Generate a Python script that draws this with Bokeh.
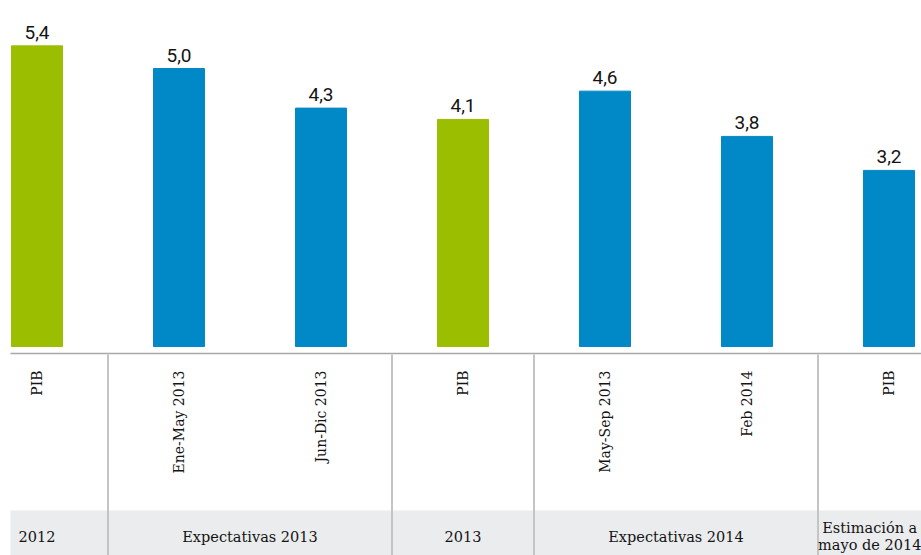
import math
from bokeh.plotting import figure
from bokeh.models import ColumnDataSource
from bokeh.core.properties import value
from bokeh.embed import file_html
from bokeh.resources import INLINE

# ---- data ----
bar_labels = ["PIB", "Ene-May 2013", "Jun-Dic 2013", "PIB", "May-Sep 2013", "Feb 2014", "PIB"]
bar_values = [5.4, 5.0, 4.3, 4.1, 4.6, 3.8, 3.2]
bar_kind = ["pib", "exp", "exp", "pib", "exp", "exp", "est"]
group_labels = ["2012", "Expectativas 2013", "2013", "Expectativas 2014", "Estimación a\nmayo de 2014"]
group_start = [0, 1, 3, 4, 6]
group_end = [0, 2, 3, 5, 6]

GREEN = "#9BBF00"
BLUE = "#0089C6"
SERIF = "DejaVu Serif"
INK = "#141414"

W, H = 921, 555
STEP = 142.0
X0 = 36.5
x_left = -X0 / STEP
x_right = (W - X0) / STEP
K = 56.6
B = 351.0
y_top = B / K
y_bot = -(H - B) / K


def py(ry):
    """reference-picture y -> data y"""
    return (B - ry) / K


def px(rx):
    return (rx - X0) / STEP


p = figure(width=W, height=H, output_backend="svg", toolbar_location=None,
           x_range=(x_left, x_right), y_range=(y_bot, y_top),
           min_border=0, min_border_left=0, min_border_right=0,
           min_border_top=0, min_border_bottom=0)
p.axis.visible = False
p.grid.visible = False
p.outline_line_color = None
p.background_fill_color = "white"

idx = list(range(len(bar_values)))
colors = [GREEN if k == "pib" else BLUE for k in bar_kind]
src = ColumnDataSource(dict(x=idx, top=bar_values, color=colors,
                            lab=[f"{v:.1f}".replace(".", ",") for v in bar_values],
                            tick=bar_labels))

# table band
p.quad(left=px(10), right=x_right, bottom=y_bot, top=py(510),
       fill_color="#EBECEE", line_color=None)

# bars
p.vbar(x="x", top="top", bottom=py(346), width=51 / STEP, color="color", source=src)

# value labels
p.text(x="x", y="top", text="lab", source=src, text_align="center",
       text_baseline="bottom", y_offset=-7, text_font=value("Roboto"),
       text_font_size="19px", text_color=INK)

# baseline rule
p.segment(x0=px(10), x1=x_right, y0=py(353), y1=py(353),
          line_color="#A8A8A8", line_width=1.5)

# group dividers
div_x = [s - 0.5 for s in group_start[1:]]
p.segment(x0=div_x, x1=div_x, y0=[py(354)] * len(div_x), y1=[y_bot] * len(div_x),
          line_color="#C4C4C4", line_width=2)

# rotated tick labels
p.text(x="x", y=py(370), text="tick", source=src, angle=math.pi / 2,
       text_align="right", text_baseline="middle", text_font=value(SERIF),
       text_font_size="14px", text_color=INK)

# group labels
gx = []
for s, e in zip(group_start, group_end):
    gx.append(min((s + e) / 2, (s - 0.5 + x_right) / 2))
p.text(x=gx, y=[py(536)] * len(gx), text=group_labels, text_align="center",
       text_baseline="middle", text_font=value(SERIF), text_font_size="14.5px",
       text_color=INK, text_line_height=1.1)

open("out.html", "w").write(file_html(p, INLINE))
